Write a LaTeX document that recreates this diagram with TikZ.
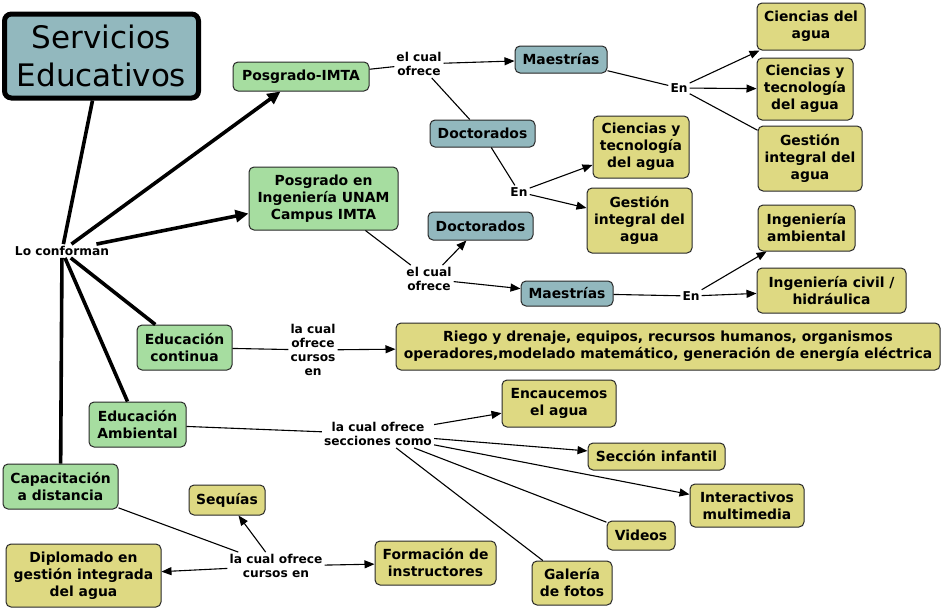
\documentclass[tikz,border=0pt]{standalone}
\usepackage{fontspec}
\setmainfont{DejaVu Sans}
\usetikzlibrary{arrows.meta}
\definecolor{grn}{RGB}{166,221,160}
\definecolor{blu}{RGB}{146,184,190}
\definecolor{yel}{RGB}{222,217,130}
\definecolor{bord}{RGB}{40,40,40}
\tikzset{
  box/.style={draw=bord, line width=1pt, rounded corners=5pt, align=center, inner sep=0pt,
    font=\fontsize{13.9}{17}\selectfont\bfseries},
  gbox/.style={box, fill=grn},
  bbox/.style={box, fill=blu},
  ybox/.style={box, fill=yel},
  lab/.style={align=center, inner sep=2pt, font=\fontsize{12.2}{14}\selectfont\bfseries},
  conn/.style={line width=1.1pt, black},
  arr/.style={conn, -{Triangle[length=10pt,width=8pt]}},
  thk/.style={line width=3.6pt, black},
  tarr/.style={thk, -{Triangle[length=13pt,width=12pt]}}
}
\newcommand{\bx}[6]{\node[#1, minimum width=#4pt, minimum height=#5pt] (#2) at (#3) {#6};}
\begin{document}
\begin{tikzpicture}[x=1pt,y=-1pt]
\useasboundingbox (0,0) rectangle (941,613);
\fill[white] (0,0) rectangle (941,613);

% main
\node[draw=black, line width=5pt, fill=blu, rounded corners=7pt, minimum width=194pt, minimum height=84pt,
  align=center, inner sep=0pt, font=\fontsize{31}{38}\selectfont] (serv) at (101.5,56) {Servicios\\Educativos};
\node[lab] (locon) at (62,251) {Lo conforman};

% boxes
\bx{gbox}{pimta}{301,76.5}{136}{29}{Posgrado-IMTA}
\bx{gbox}{punam}{323.5,198.5}{149}{63}{Posgrado en\\Ingeniería UNAM\\Campus IMTA}
\bx{bbox}{maes1}{561,59.5}{92}{27}{Maestrías}
\bx{bbox}{doc1}{482.5,133.5}{105}{27}{Doctorados}
\bx{ybox}{cda}{811,26.5}{108}{47}{Ciencias del\\agua}
\bx{ybox}{cyt1}{805,89}{96}{62}{Ciencias y\\tecnología\\del agua}
\bx{ybox}{gia1}{810,158.5}{104}{65}{Gestión\\integral del\\agua}
\bx{ybox}{cyt2}{641,147}{96}{62}{Ciencias y\\tecnología\\del agua}
\bx{ybox}{gia2}{639.5,220.5}{105}{65}{Gestión\\integral del\\agua}
\bx{bbox}{doc2}{480.5,226}{105}{28}{Doctorados}
\bx{bbox}{maes2}{567,293.5}{92}{25}{Maestrías}
\bx{ybox}{ia}{806.5,228}{97}{46}{Ingeniería\\ambiental}
\bx{ybox}{ic}{831.5,290.5}{149}{45}{Ingeniería civil /\\hidráulica}
\bx{gbox}{edc}{184.5,347.5}{95}{45}{Educación\\continua}
\bx{ybox}{riego}{668,346.5}{544}{47}{Riego y drenaje, equipos, recursos humanos, organismos\\operadores,modelado matemático, generación de energía eléctrica}
\bx{gbox}{eda}{137.5,424.5}{97}{45}{Educación\\Ambiental}
\bx{ybox}{enc}{559,403.5}{114}{47}{Encaucemos\\el agua}
\bx{ybox}{si}{656.5,456.5}{137}{27}{Sección infantil}
\bx{ybox}{im}{747,505.5}{114}{43}{Interactivos\\multimedia}
\bx{ybox}{vid}{641,535.5}{68}{29}{Videos}
\bx{ybox}{gal}{572,583}{80}{44}{Galería\\de fotos}
\bx{gbox}{cap}{60.5,486.5}{115}{45}{Capacitación\\a distancia}
\bx{ybox}{seq}{227,500}{76}{30}{Sequías}
\bx{ybox}{dip}{83.5,575.5}{155}{63}{Diplomado en\\gestión integrada\\del agua}
\bx{ybox}{form}{435.5,563}{121}{44}{Formación de\\instructores}

% labels
\node[lab] (ec1) at (419,64) {el cual\\ofrece};
\node[lab] (en1) at (679,88) {En};
\node[lab] (en2) at (519,192) {En};
\node[lab] (ec2) at (429,279) {el cual\\ofrece};
\node[lab] (en3) at (691,296) {En};
\node[lab] (lcc) at (313,350) {la cual\\ofrece\\cursos\\en};
\node[lab] (lcs) at (378,434) {la cual ofrece\\secciones como};
\node[lab] (lcd) at (276,566) {la cual ofrece\\cursos en};

% thick connectors
\draw[thk] (locon) -- (serv);
\draw[tarr] (locon) -- (pimta);
\draw[tarr] (locon) -- (punam);
\draw[thk] (locon) -- (edc);
\draw[thk] (locon) -- (eda);
\draw[thk] (locon) -- (cap);

% thin connectors
\draw[conn] (pimta) -- (ec1);
\draw[arr] (ec1) -- (maes1);
\draw[conn] (ec1) -- (doc1);
\draw[conn] (maes1) -- (en1);
\draw[arr] (en1) -- (cda);
\draw[arr] (en1) -- (cyt1);
\draw[conn] (en1) -- (gia1);
\draw[conn] (doc1) -- (en2);
\draw[arr] (en2) -- (cyt2);
\draw[arr] (en2) -- (gia2);
\draw[conn] (punam) -- (ec2);
\draw[arr] (ec2) -- (doc2);
\draw[arr] (ec2) -- (maes2);
\draw[conn] (maes2) -- (en3);
\draw[arr] (en3) -- (ia);
\draw[arr] (en3) -- (ic);
\draw[conn] (edc) -- (lcc);
\draw[arr] (lcc) -- (riego);
\draw[conn] (eda) -- (lcs);
\draw[arr] (lcs) -- (enc);
\draw[arr] (lcs) -- (si);
\draw[arr] (lcs) -- (im);
\draw[conn] (lcs) -- (vid);
\draw[conn] (lcs) -- (gal);
\draw[conn] (cap) -- (lcd);
\draw[arr] (lcd) -- (seq);
\draw[arr] (lcd) -- (form);
\draw[arr] (lcd) -- (dip);
\end{tikzpicture}
\end{document}
